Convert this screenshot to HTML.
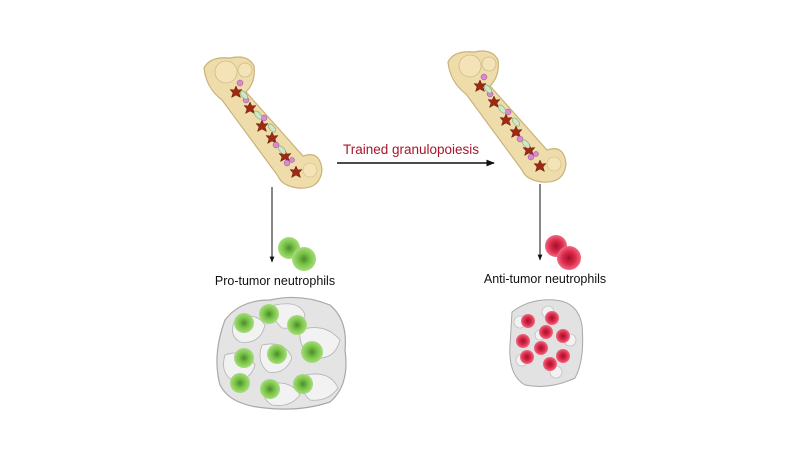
<!DOCTYPE html>
<html><head><meta charset="utf-8"><style>
html,body{margin:0;padding:0;background:#fff;}
svg{display:block;}
text{font-family:"Liberation Sans",sans-serif;}
</style></head><body>
<svg width="800" height="450" viewBox="0 0 800 450" xmlns="http://www.w3.org/2000/svg">
<defs>
<marker id="ah" viewBox="0 0 10 10" refX="9" refY="5" markerWidth="6" markerHeight="6" orient="auto"><path d="M0,1 L10,5 L0,9 Z" fill="#111"/></marker>
<radialGradient id="gg" cx="50%" cy="50%" r="50%"><stop offset="0" stop-color="#4d8a2a"/><stop offset="0.5" stop-color="#78c448"/><stop offset="1" stop-color="#a8dc7c"/></radialGradient>
<radialGradient id="rg" cx="50%" cy="50%" r="50%"><stop offset="0" stop-color="#a0102a"/><stop offset="0.55" stop-color="#dd2a4c"/><stop offset="1" stop-color="#ee6a80"/></radialGradient>
<g id="star"><path d="M0,-6 L1.8,-2 L6,-2.5 L3,1 L4.5,5.5 L0,3 L-4.5,5.5 L-3,1 L-6,-2.5 L-1.8,-2 Z" fill="#9c2a14" stroke="#6a1a08" stroke-width="0.5"/></g>
<g id="bone">
<path d="M204,68 Q210,56 230,58 Q248,54 254,66 Q256,82 246,92 L303,156 Q320,150 322,170 Q320,190 298,188 Q282,186 278,176 L222,100 Q206,88 204,68 Z" fill="#eedcaa" stroke="#c9b27a" stroke-width="1.2"/>
<circle cx="226" cy="72" r="11" fill="#f3e3b6" stroke="#d0bb86" stroke-width="0.8"/>
<circle cx="245" cy="70" r="7" fill="#f3e3b6" stroke="#d0bb86" stroke-width="0.8"/>
<circle cx="310" cy="170" r="7" fill="#f3e3b6" stroke="#d0bb86" stroke-width="0.6"/>
<use href="#star" x="236" y="92"/><use href="#star" x="250" y="108"/>
<use href="#star" x="262" y="126"/><use href="#star" x="272" y="138"/>
<use href="#star" x="285" y="156"/><use href="#star" x="296" y="172"/>
<g fill="#d88ad0" stroke="#9a4a90" stroke-width="0.5">
<circle cx="240" cy="83" r="3"/><circle cx="246" cy="100" r="3"/><circle cx="264" cy="118" r="3"/><circle cx="276" cy="145" r="3"/><circle cx="287" cy="163" r="3"/><circle cx="292" cy="160" r="2.5"/>
</g>
<g fill="#cfe6c8" stroke="#6f9a60" stroke-width="0.5">
<ellipse cx="244" cy="95" rx="5" ry="2.5" transform="rotate(50 244 95)"/><ellipse cx="258" cy="115" rx="5" ry="2.5" transform="rotate(50 258 115)"/><ellipse cx="272" cy="128" rx="5" ry="2.5" transform="rotate(50 272 128)"/><ellipse cx="282" cy="150" rx="5" ry="2.5" transform="rotate(50 282 150)"/>
</g>
</g>
</defs>
<use href="#bone"/>
<use href="#bone" transform="translate(244,-6)"/>
<line x1="272" y1="187" x2="272" y2="262" stroke="#111" stroke-width="1" marker-end="url(#ah)"/>
<line x1="337" y1="163" x2="494" y2="163" stroke="#111" stroke-width="1.4" marker-end="url(#ah)"/>
<line x1="540" y1="184" x2="540" y2="260" stroke="#111" stroke-width="1" marker-end="url(#ah)"/>
<text x="411" y="154" font-size="13.5" fill="#a8152a" text-anchor="middle">Trained granulopoiesis</text>
<text x="275" y="285" font-size="12.5" fill="#111" text-anchor="middle">Pro-tumor neutrophils</text>
<text x="545" y="283" font-size="12.5" fill="#111" text-anchor="middle">Anti-tumor neutrophils</text>
<circle cx="289" cy="248" r="11" fill="url(#gg)"/><circle cx="304" cy="259" r="12" fill="url(#gg)"/>
<circle cx="556" cy="246" r="11" fill="url(#rg)"/><circle cx="569" cy="258" r="12" fill="url(#rg)"/>
<!-- left tumor -->
<path d="M225,320 Q240,300 270,300 Q300,293 330,305 Q348,320 345,350 Q350,385 330,402 Q300,412 265,408 Q230,405 220,385 Q212,355 225,320 Z" fill="#e4e4e4" stroke="#a8a8a8" stroke-width="1.2"/>
<g fill="#f2f2f2" stroke="#b4b4b4" stroke-width="0.8">
<path d="M235,320 Q255,310 265,325 Q260,345 240,342 Q228,335 235,320Z"/>
<path d="M275,305 Q300,300 305,315 Q300,330 282,328 Q270,318 275,305Z"/>
<path d="M300,330 Q325,322 340,340 Q335,360 315,358 Q298,350 300,330Z"/>
<path d="M225,355 Q245,348 255,365 Q250,382 232,380 Q220,372 225,355Z"/>
<path d="M262,345 Q285,340 292,358 Q285,375 268,372 Q256,362 262,345Z"/>
<path d="M265,385 Q290,378 300,395 Q290,408 272,405 Q260,398 265,385Z"/>
<path d="M305,375 Q330,370 338,388 Q328,402 310,400 Q298,390 305,375Z"/>
</g>
<g fill="url(#gg)">
<circle cx="244" cy="323" r="10"/><circle cx="269" cy="314" r="10"/><circle cx="297" cy="325" r="10"/>
<circle cx="244" cy="358" r="10"/><circle cx="277" cy="354" r="10"/><circle cx="312" cy="352" r="11"/>
<circle cx="240" cy="383" r="10"/><circle cx="270" cy="389" r="10"/><circle cx="303" cy="384" r="10"/>
</g>
<!-- right tumor -->
<path d="M512,312 Q530,298 555,300 Q578,302 582,325 Q585,360 575,378 Q550,390 525,385 Q508,375 510,345 Z" fill="#e2e2e2" stroke="#a8a8a8" stroke-width="1"/>
<g fill="#f2f2f2" stroke="#b4b4b4" stroke-width="0.6">
<circle cx="520" cy="322" r="6"/><circle cx="548" cy="312" r="6"/><circle cx="570" cy="340" r="6"/><circle cx="522" cy="360" r="6"/><circle cx="556" cy="372" r="6"/><circle cx="540" cy="335" r="5"/>
</g>
<g fill="url(#rg)">
<circle cx="528" cy="321" r="7"/><circle cx="552" cy="318" r="7"/>
<circle cx="546" cy="332" r="7"/><circle cx="563" cy="336" r="7"/>
<circle cx="523" cy="341" r="7"/><circle cx="541" cy="348" r="7"/>
<circle cx="527" cy="357" r="7"/><circle cx="550" cy="364" r="7"/><circle cx="563" cy="356" r="7"/>
</g>
</svg>
</body></html>
